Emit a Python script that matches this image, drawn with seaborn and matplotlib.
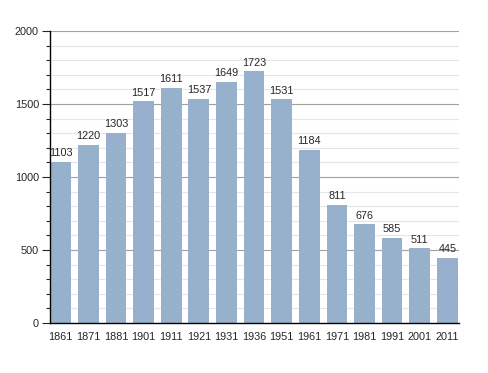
import matplotlib
matplotlib.use("Agg")
import matplotlib.pyplot as plt
import seaborn as sns
import pandas as pd
from matplotlib.ticker import MultipleLocator

# data
years = ["1861", "1871", "1881", "1901", "1911", "1921", "1931", "1936",
         "1951", "1961", "1971", "1981", "1991", "2001", "2011"]
population = [1103, 1220, 1303, 1517, 1611, 1537, 1649, 1723,
              1531, 1184, 811, 676, 585, 511, 445]

df = pd.DataFrame({"year": years, "pop": population})

sns.set_style("white")
plt.rcParams["font.family"] = ["Liberation Sans", "DejaVu Sans"]

fig = plt.figure(figsize=(4.88, 3.73), dpi=100)
ax = fig.add_axes([0.1025, 0.134, 0.838, 0.783])

# grid first, behind everything
for y in range(100, 2001, 100):
    col = "#a0a0a0" if y % 500 == 0 else "#e6e6e6"
    ax.axhline(y, color=col, linewidth=0.8, zorder=0)

sns.barplot(data=df, x="year", y="pop", color="#97b0cb", saturation=1,
            width=0.75, ax=ax, linewidth=0)
for p in ax.patches:
    p.set_zorder(3)

for i, v in enumerate(population):
    ax.text(i, v + 26, str(v), ha="center", va="bottom", fontsize=7.8, zorder=4)

ax.set_ylim(0, 2000)
ax.set_xlim(-0.39, 14.42)
ax.yaxis.set_major_locator(MultipleLocator(500))
ax.yaxis.set_minor_locator(MultipleLocator(100))
ax.grid(False)

for s in ["top", "right"]:
    ax.spines[s].set_visible(False)
for s in ["left", "bottom"]:
    ax.spines[s].set_color("black")
    ax.spines[s].set_linewidth(1)
    ax.spines[s].set_zorder(5)

ax.tick_params(axis="y", which="major", left=True, length=6, width=0.8,
               labelsize=7.8, pad=2)
ax.tick_params(axis="y", which="minor", left=True, length=3, width=0.8)
ax.tick_params(axis="x", bottom=False, labelsize=7.8, pad=3)
ax.set_xlabel("")
ax.set_ylabel("")

fig.savefig("out.png", dpi=100)
